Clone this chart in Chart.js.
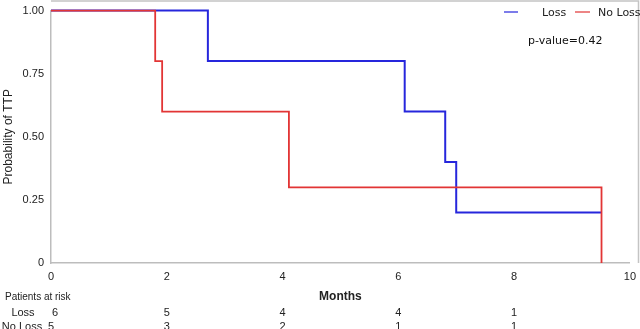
<!DOCTYPE html>
<html><head><meta charset="utf-8">
<script src="https://cdn.jsdelivr.net/npm/chart.js@4"></script>
<style>html,body{margin:0;padding:0;background:#fff}#wrap{width:640px;height:329px;position:relative}</style>
</head><body><div id="wrap"><canvas id="c" width="640" height="329"></canvas></div>
<script>
// Kaplan-Meier data (months, probability of TTP)
const lossTimes = [0, 2.71, 6.11, 6.81, 7.00, 9.51];
const lossSurv  = [1.0, 0.8, 0.6, 0.4, 0.2, 0.2];
const noLossTimes = [0, 1.80, 1.92, 4.11, 9.51];
const noLossSurv  = [1.0, 0.8, 0.6, 0.3, 0.0];
const seriesNames = ['Loss', 'No Loss'];
const seriesColors = ['#2626dc', '#e23535'];
const riskTimes = [0, 2, 4, 6, 8];
const lossAtRisk = [6, 5, 4, 4, 1];
const noLossAtRisk = [5, 3, 2, 1, 1];
const yTicks = [0, 0.25, 0.5, 0.75, 1.0];
const xTicks = [0, 2, 4, 6, 8, 10];
const pValueText = 'p-value=0.42';

const toPts = (t, s) => t.map((x, i) => ({x: x, y: s[i]}));

const overlay = {
  id: 'overlay',
  afterDraw(chart) {
    const ctx = chart.ctx, xs = chart.scales.x, ys = chart.scales.y, a = chart.chartArea;
    ctx.save();
    // frame top & right
    ctx.strokeStyle = '#c4c4c4'; ctx.lineWidth = 1.5;
    ctx.beginPath(); ctx.moveTo(a.left, 1); ctx.lineTo(638.5, 1); ctx.lineTo(638.5, a.bottom); ctx.stroke();
    // legend
    ctx.font = '11px "DejaVu Sans"'; ctx.textBaseline = 'middle'; ctx.textAlign = 'left';
    ctx.lineWidth = 1.2;
    ctx.strokeStyle = seriesColors[0]; ctx.beginPath(); ctx.moveTo(504, 12); ctx.lineTo(518, 12); ctx.stroke();
    ctx.fillStyle = '#222'; ctx.fillText(seriesNames[0], 542, 13);
    ctx.strokeStyle = seriesColors[1]; ctx.beginPath(); ctx.moveTo(575, 12); ctx.lineTo(590, 12); ctx.stroke();
    ctx.fillText(seriesNames[1], 598, 13);
    // p-value
    ctx.font = '11px "DejaVu Sans"'; ctx.fillStyle = '#111';
    ctx.fillText(pValueText, 528, 41);
    // x title
    ctx.font = 'bold 12px "Liberation Sans"'; ctx.textAlign = 'center'; ctx.fillStyle = '#222';
    ctx.fillText('Months', xs.getPixelForValue(5), 297);
    // patients at risk
    ctx.font = '10px "Liberation Sans"'; ctx.textAlign = 'left';
    ctx.fillText('Patients at risk', 5, 297);
    ctx.font = '11px "Liberation Sans"';
    ctx.textAlign = 'center';
    ctx.fillText(seriesNames[0], 23, 313);
    ctx.fillText(seriesNames[1], 22, 327);
    riskTimes.forEach((t, i) => {
      const px = xs.getPixelForValue(t);
      ctx.fillText(String(lossAtRisk[i]), px + (i === 0 ? 4 : 0), 313);
      ctx.fillText(String(noLossAtRisk[i]), px, 327);
    });
    ctx.restore();
  }
};

new Chart(document.getElementById('c'), {
  type: 'scatter',
  data: {
    datasets: [
      {label: seriesNames[0], data: toPts(lossTimes, lossSurv), showLine: true, stepped: 'before',
       borderColor: seriesColors[0], borderWidth: 2, pointRadius: 0, fill: false, order: 1, clip: 3},
      {label: seriesNames[1], data: toPts(noLossTimes, noLossSurv), showLine: true, stepped: 'before',
       borderColor: seriesColors[1], borderWidth: 1.8, pointRadius: 0, fill: false, order: 0, clip: 3}
    ]
  },
  options: {
    responsive: false, animation: false, devicePixelRatio: 1,
    layout: {padding: {left: 0, top: 5, right: 3, bottom: 0}},
    plugins: {legend: {display: false}, tooltip: {enabled: false}},
    scales: {
      x: {
        type: 'linear', min: 0, max: 10,
        afterBuildTicks: s => { s.ticks = xTicks.map(v => ({value: v})); },
        afterFit: s => { s.height = 66; },
        grid: {display: false, drawOnChartArea: false, drawTicks: true, tickLength: 3, tickColor: '#bdbdbd'},
        border: {display: true, color: '#bdbdbd', width: 1.5},
        ticks: {color: '#222', font: {family: 'Liberation Sans', size: 11}, padding: 4, maxRotation: 0}
      },
      y: {
        min: 0, max: 1,
        afterBuildTicks: s => { s.ticks = yTicks.map(v => ({value: v})); },
        afterFit: s => { s.width = 51; },
        grid: {display: false, drawOnChartArea: false, drawTicks: true, tickLength: 3, tickColor: '#bdbdbd'},
        border: {display: true, color: '#bdbdbd', width: 1.5},
        ticks: {color: '#222', font: {family: 'Liberation Sans', size: 11}, padding: 4,
                callback: v => v === 0 ? '0' : v.toFixed(2)},
        title: {display: true, text: 'Probability of TTP', color: '#222',
                font: {family: 'Liberation Sans', size: 12}, padding: {top: 1, bottom: 0}}
      }
    }
  },
  plugins: [overlay]
});
</script></body></html>
